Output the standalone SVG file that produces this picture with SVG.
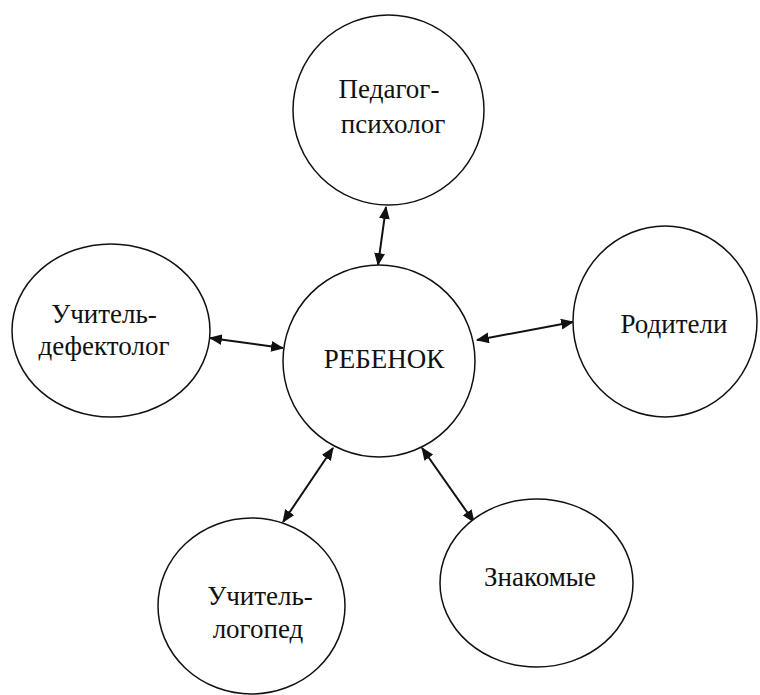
<svg xmlns="http://www.w3.org/2000/svg" width="760" height="695" viewBox="0 0 760 695">
<style>
.node ellipse{fill:#fff;stroke:#111;stroke-width:1.5}
.node text{font-family:"Liberation Serif","Times New Roman",serif;font-size:27px;fill:#111;text-anchor:middle}
.edge{stroke:#111;stroke-width:2;fill:none;marker-start:url(#ah);marker-end:url(#ah)}
</style>
<defs>
<marker id="ah" viewBox="0 0 12 10" refX="11" refY="5" markerWidth="13" markerHeight="11" markerUnits="userSpaceOnUse" orient="auto-start-reverse">
<path d="M0,0 L12,5 L0,10 Z" fill="#111"/>
</marker>
</defs>
<rect width="760" height="695" fill="#fff"/>
<g id="connectors">
<line class="edge" x1="386" y1="207" x2="378" y2="265"/>
<line class="edge" x1="210" y1="338" x2="283" y2="348"/>
<line class="edge" x1="477" y1="340" x2="573" y2="322"/>
<line class="edge" x1="333" y1="448" x2="283" y2="522"/>
<line class="edge" x1="422" y1="448" x2="474" y2="522"/>
</g>
<g id="n-psych" class="node">
<ellipse cx="388.5" cy="110" rx="95.5" ry="95"/>
<text x="389" y="98">Педагог-</text>
<text x="393" y="133">психолог</text>
</g>
<g id="n-child" class="node">
<ellipse cx="379" cy="361" rx="96" ry="96"/>
<text x="384" y="368">РЕБЕНОК</text>
</g>
<g id="n-defect" class="node">
<ellipse cx="111" cy="330.5" rx="99" ry="86.5"/>
<text x="104" y="323">Учитель-</text>
<text x="104" y="355">дефектолог</text>
</g>
<g id="n-parents" class="node">
<ellipse cx="665" cy="321.5" rx="92" ry="95.5"/>
<text x="674" y="333">Родители</text>
</g>
<g id="n-logoped" class="node">
<ellipse cx="251.5" cy="606" rx="93.5" ry="88"/>
<text x="260" y="605">Учитель-</text>
<text x="258" y="638">логопед</text>
</g>
<g id="n-friends" class="node">
<ellipse cx="536.5" cy="583" rx="96.5" ry="84"/>
<text x="540" y="586">Знакомые</text>
</g>
</svg>
